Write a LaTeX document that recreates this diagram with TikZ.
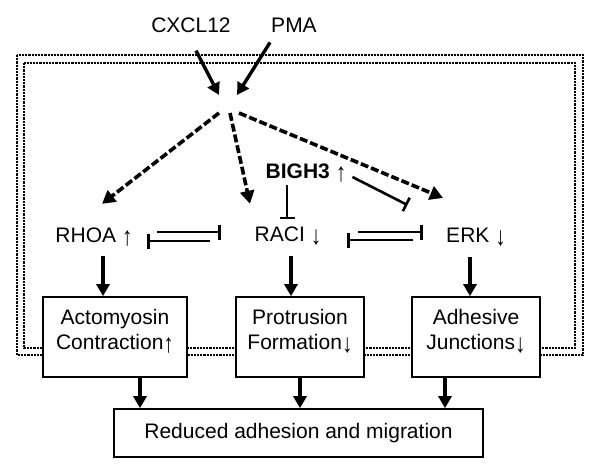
\documentclass[tikz,border=0pt]{standalone}
\usepackage{fontspec}
\usepackage{graphicx}
\setmainfont{Liberation Sans}
\usetikzlibrary{arrows.meta,calc}
\newcommand{\lowstrut}{\rule[-15pt]{0pt}{15pt}}
\newcommand{\upa}{\raisebox{-2.5pt}{\scalebox{1}[1.25]{↑}}}
\newcommand{\dna}{\raisebox{-2.5pt}{\scalebox{1}[1.25]{↓}}}
\begin{document}
\begin{tikzpicture}[x=1pt,y=-1pt,
  lbl/.style={inner sep=0pt, font=\fontsize{21}{25}\selectfont},
  box/.style={draw, line width=1.7pt, fill=white, align=center, inner sep=0pt, font=\fontsize{21}{25}\selectfont},
  frameline/.style={line width=2.6pt, dash pattern=on 2.2pt off 1pt},
  solidarr/.style={line width=3.4pt, -{Triangle[width=13pt,length=12pt]}},
  dasharr/.style={line width=3.6pt, dash pattern=on 8pt off 3pt, -{Triangle[width=14pt,length=13pt]}},
  inhib/.style={line width=2.6pt, -{Bar[width=15pt]}},
]
\useasboundingbox (0,0) rectangle (603,475);
% feedback frame
\draw[frameline] (17,55) rectangle (583,355);
\draw[frameline] (24,63) rectangle (575,348);
% labels
\node[lbl] (cxcl) at (191,25) {CXCL12};
\node[lbl] (pma) at (294,25) {PMA};
\node[lbl] (bigh) at (306,173) {\textbf{BIGH3} \upa};
\node[lbl] (rhoa) at (94,237) {RHOA \upa};
\node[lbl] (raci) at (288,236) {RACI \dna};
\node[lbl] (erk) at (476,237) {ERK \dna};
% boxes
\node[box, minimum width=144pt, minimum height=80pt] (acto) at (115,337) {Actomyosin\\Contraction\upa\lowstrut};
\node[box, minimum width=128pt, minimum height=80pt] (prot) at (300,337) {Protrusion\\Formation\dna\lowstrut};
\node[box, minimum width=128pt, minimum height=80pt] (adh) at (476,337) {Adhesive\\Junctions\dna\lowstrut};
\node[box, minimum width=369pt, minimum height=48pt] (red) at (298.5,433) {Reduced adhesion and migration};
% hub
\coordinate (hubL) at (219,95);
\coordinate (hubR) at (237,95);
\coordinate (d1) at (219,113);
\coordinate (d2) at (230,113);
\coordinate (d3) at (239,113);
% inputs
\draw[solidarr] ([shift={(5,18)}]cxcl.south) -- (hubL);
\draw[solidarr] ([shift={(-1,10)}]pma.south west) -- (hubR);
% dashed activations
\draw[dasharr] (d1) -- ([shift={(8,-24)}]rhoa.north);
\draw[dasharr] (d2) -- ([shift={(-38,-23)}]raci.north);
\draw[dasharr] (d3) -- ([shift={(-33,-30)}]erk.north);
% BIGH3 inhibitions
\draw[inhib] ([shift={(-19,3)}]bigh.south) -- ([shift={(-19,37)}]bigh.south);
\draw[inhib] ([shift={(6,4)}]bigh.east) -- ([shift={(61,32)}]bigh.east);
% mutual inhibition RHOA - RACI
\coordinate (m1a) at (157,232); \coordinate (m1b) at (221,232);
\coordinate (m2a) at (210,241); \coordinate (m2b) at (147,241);
\draw[inhib] (m1a) -- (m1b);
\draw[inhib] (m2a) -- (m2b);
% mutual inhibition RACI - ERK
\coordinate (n1a) at (358,232); \coordinate (n1b) at (423,232);
\coordinate (n2a) at (413,240); \coordinate (n2b) at (347,240);
\draw[inhib] (n1a) -- (n1b);
\draw[inhib] (n2a) -- (n2b);
% downward arrows
\draw[solidarr] ($(acto.north)+(-12,-40)$) -- ($(acto.north)+(-12,0)$);
\draw[solidarr] ($(prot.north)+(-9,-40)$) -- ($(prot.north)+(-9,0)$);
\draw[solidarr] ($(adh.north)+(-6,-39)$) -- ($(adh.north)+(-6,0)$);
\draw[solidarr] (acto.south -| 140,0) -- (red.north -| 140,0);
\draw[solidarr] (prot.south) -- (red.north -| prot.south);
\draw[solidarr] ($(adh.south)+(-31,0)$) -- (red.north -| 445,0);
\end{tikzpicture}
\end{document}
